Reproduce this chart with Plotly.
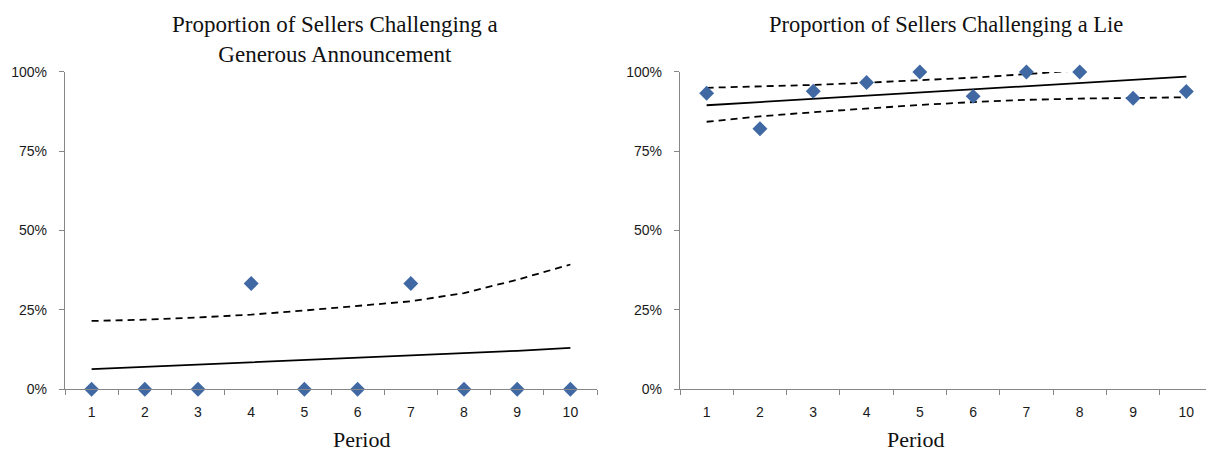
import plotly.graph_objects as go

periods = ["1", "2", "3", "4", "5", "6", "7", "8", "9", "10"]

# Left panel: generous announcement
gen_obs = [0, 0, 0, 0.333, 0, 0, 0.333, 0, 0, 0]
gen_fit = [0.063, 0.070, 0.077, 0.084, 0.091, 0.099, 0.106, 0.114, 0.121, 0.130]
gen_upper = [0.215, 0.219, 0.226, 0.235, 0.248, 0.263, 0.277, 0.303, 0.345, 0.393]

# Right panel: lie
lie_obs = [0.933, 0.821, 0.939, 0.967, 1.0, 0.923, 1.0, 1.0, 0.917, 0.938]
lie_fit = [0.895, 0.905, 0.915, 0.925, 0.935, 0.945, 0.955, 0.965, 0.975, 0.985]
lie_upper = [0.950, 0.954, 0.959, 0.966, 0.973, 0.982, 0.993, 1.006, 1.02, 1.03]
lie_lower = [0.843, 0.860, 0.873, 0.885, 0.896, 0.905, 0.912, 0.916, 0.919, 0.920]

y_ticks = [0, 0.25, 0.5, 0.75, 1.0]

# page body has an 8px margin; size the figure so it fits the window
OFF = 8
W, H = 1214 - OFF, 464 - 2 * OFF
MARK = "#4069A4"
AX = "#868686"

def px(x):
    return (x - OFF) / W

def py(y):
    return 1 - (y - OFF) / H

fig = go.Figure()

def add_panel(xa, ya, obs, fit, bands):
    for b in bands:
        fig.add_trace(go.Scatter(x=periods, y=b, mode="lines", xaxis=xa, yaxis=ya,
                                 line=dict(color="black", width=1.8, dash="7px,5px"),
                                 showlegend=False, hoverinfo="skip"))
    fig.add_trace(go.Scatter(x=periods, y=fit, mode="lines", xaxis=xa, yaxis=ya,
                             line=dict(color="black", width=1.8),
                             showlegend=False, hoverinfo="skip"))
    fig.add_trace(go.Scatter(x=periods, y=obs, mode="markers", xaxis=xa, yaxis=ya,
                             marker=dict(symbol="diamond", size=11.5, color=MARK),
                             cliponaxis=False, showlegend=False))

add_panel("x", "y", gen_obs, gen_fit, [gen_upper])
add_panel("x2", "y2", lie_obs, lie_fit, [lie_upper, lie_lower])

ydom = [py(395), py(66)]
xdom1 = [px(65), px(597)]
xdom2 = [px(680), px(1213)]

tickfont = dict(family="Liberation Sans", size=14, color="#1a1a1a")

xcommon = dict(type="category", tickson="boundaries", ticks="outside", ticklen=5,
               tickcolor=AX, showline=True, linecolor=AX, linewidth=1.3,
               showgrid=False, zeroline=False, tickfont=tickfont,
               ticklabelstandoff=10, range=[-0.5, 9.5],
               categoryorder="array", categoryarray=periods)
ycommon = dict(range=[0, 1], tickvals=y_ticks, tickformat=".0%", ticks="outside",
               ticklen=5, tickcolor=AX, showline=True, linecolor=AX, linewidth=1.3,
               showgrid=False, zeroline=False, tickfont=tickfont, domain=ydom,
               ticklabelstandoff=9)

fig.update_layout(
    width=W, height=H,
    margin=dict(l=0, r=0, t=0, b=0),
    paper_bgcolor="white", plot_bgcolor="white",
    xaxis=dict(**xcommon, anchor="y", domain=xdom1),
    yaxis=dict(**ycommon, anchor="x"),
    xaxis2=dict(**xcommon, anchor="y2", domain=xdom2),
    yaxis2=dict(**ycommon, anchor="x2"),
)

serif = "Liberation Serif"
fig.add_annotation(text="Proportion of Sellers Challenging a<br>Generous Announcement",
                   xref="paper", yref="paper", showarrow=False, xanchor="center",
                   x=px(335), y=py(32), yanchor="middle",
                   font=dict(family=serif, size=23, color="#111"))
fig.add_annotation(text="Proportion of Sellers Challenging a Lie",
                   xref="paper", yref="paper", showarrow=False, xanchor="center",
                   x=px(946), y=py(17), yanchor="middle",
                   font=dict(family=serif, size=22.5, color="#111"))
for cx in (331, 946):
    fig.add_annotation(text="Period", xref="paper", yref="paper", showarrow=False,
                       x=px(cx), y=py(447), yanchor="middle",
                       font=dict(family=serif, size=22, color="#111"))

fig.write_html("out.html")
